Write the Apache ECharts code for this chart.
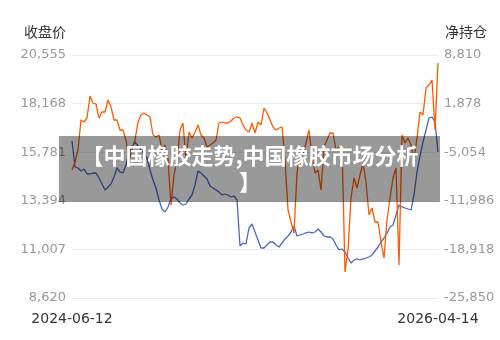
<!DOCTYPE html>
<html>
<head>
<meta charset="utf-8">
<script src="https://cdn.jsdelivr.net/npm/echarts@6/dist/echarts.min.js"></script>
<style>html,body{margin:0;padding:0;background:#fff}#c{width:500px;height:340px}</style>
</head>
<body>
<div id="c"></div>
<script>
var startDate = '2024-06-12';
var endDate = '2026-04-14';
var titleText = '【中国橡胶走势,中国橡胶市场分析\n】';
var leftAxisName = '收盘价';
var rightAxisName = '净持仓';
var leftTicks = [8620, 11007, 13394, 15781, 18168, 20555];
var rightTicks = [-25850, -18918, -11986, -5054, 1878, 8810];

var closePrice = [16331,15054,15005,14858,14956,14710,14710,14759,14759,14514,14219,13924,14072,14219,14563,15005,14809,14759,15152,15742,16036,16282,16086,15889,15693,15496,14907,14416,14023,13433,12991,12844,13090,13482,13581,13482,13286,13188,13237,13482,13679,14170,14858,14759,14612,14465,14121,14023,13924,13826,13679,13728,13679,13581,13630,13433,11174,11321,11272,12058,12255,11862,11469,11076,11076,11223,11370,11370,11223,11125,11321,11518,11665,11862,12156,11665,11714,11763,11813,11862,11813,11862,12009,11862,11665,11616,11616,11518,11223,10978,11027,10879,10585,10339,10486,10536,10486,10536,10585,10634,10732,10928,11125,11370,11567,11813,12107,12205,12697,13188,13090,13040,12991,12942,13679,14809,15594,16282,16871,17461,17510,17264,15791];

var netPosition = [-7592,-6451,-4740,-461,-746,-176,2962,1964,1821,-176,680,680,2392,1393,-461,-461,-1887,-1887,-3314,-6166,-4740,-3314,-746,252,537,252,-33,-2600,-2886,-2600,-4740,-4027,-6166,-12585,-8306,-6166,-1887,-889,-6166,-2173,-3028,-2173,-1174,-2600,-3028,-4312,-4027,-3741,-3314,-889,-746,-889,-889,-604,-176,-33,-176,-1174,-1887,-2173,-889,-2315,-746,-1174,1251,537,-461,-1459,-1887,-1602,-1459,-6166,-13298,-15009,-16578,-8020,-5168,-5453,-3741,-1887,-5738,-8020,-7592,-10445,-4312,-3314,-2315,-2315,-4740,-4312,-4027,-22141,-19003,-11586,-8733,-10160,-8306,-6594,-9304,-14011,-13012,-15009,-15009,-17862,-20144,-14724,-11586,-8733,-7307,-21142,-2600,-3741,-3028,-4027,-6166,-3028,680,252,4103,4531,5244,-1887,7669];

// evenly spaced date categories between the first and last date
function buildDates(n) {
  var s = Date.parse(startDate + 'T00:00:00Z');
  var e = Date.parse(endDate + 'T00:00:00Z');
  var out = [];
  for (var i = 0; i < n; i++) {
    var t = new Date(s + Math.round((e - s) / 86400000 * i / (n - 1)) * 86400000);
    out.push(t.toISOString().slice(0, 10));
  }
  return out;
}
var dates = buildDates(closePrice.length);

var chart = echarts.init(document.getElementById('c'), null, {renderer: 'canvas'});
var fmt = function (v) { return Math.round(v).toLocaleString('en-US'); };
var FONT = '"DejaVu Sans", "Noto Sans CJK SC", sans-serif';
chart.setOption({
  animation: false,
  grid: {left: 72, right: 62, top: 55, bottom: 42},
  xAxis: {
    type: 'category',
    data: dates,
    boundaryGap: false,
    axisLine: {show: false},
    axisTick: {show: false},
    splitLine: {show: false},
    axisLabel: {
      color: '#333', fontSize: 14, fontFamily: FONT, margin: 14,
      interval: function (i) { return i === 0 || i === dates.length - 1; },
      showMinLabel: true, showMaxLabel: true
    }
  },
  yAxis: [{
    type: 'value',
    name: leftAxisName,
    nameLocation: 'end',
    nameGap: 15,
    nameTextStyle: {color: '#333', fontSize: 14, fontFamily: FONT, align: 'right', padding: [0, 6, 0, 0]},
    min: leftTicks[0], max: leftTicks[leftTicks.length - 1], interval: leftTicks[1] - leftTicks[0],
    axisLine: {show: false}, axisTick: {show: false},
    axisLabel: {color: '#999', fontSize: 13, fontFamily: FONT, margin: 6, formatter: fmt},
    splitLine: {show: true, lineStyle: {color: '#E9EBF3', width: 1}}
  }, {
    type: 'value',
    name: rightAxisName,
    nameLocation: 'end',
    nameGap: 15,
    nameTextStyle: {color: '#333', fontSize: 14, fontFamily: FONT, align: 'left', padding: [0, 0, 0, 7]},
    min: rightTicks[0], max: rightTicks[rightTicks.length - 1], interval: rightTicks[1] - rightTicks[0],
    axisLine: {show: false}, axisTick: {show: false},
    axisLabel: {color: '#999', fontSize: 13, fontFamily: FONT, margin: 6, formatter: fmt},
    splitLine: {show: false}
  }],
  series: [{
    name: leftAxisName, type: 'line', yAxisIndex: 0, data: closePrice, z: 2,
    symbol: 'none', lineStyle: {color: '#4A68C9', width: 1.3}, itemStyle: {color: '#4A68C9'}
  }, {
    name: rightAxisName, type: 'line', yAxisIndex: 1, data: netPosition, z: 3,
    symbol: 'none', lineStyle: {color: '#FF5A00', width: 1.3}, itemStyle: {color: '#FF5A00'}
  }],
  graphic: {
    elements: [{
      type: 'rect', z: 1000, zlevel: 0, shape: {x: 59, y: 136, width: 381, height: 66},
      style: {fill: 'rgba(0,0,0,0.4)'}
    }, {
      type: 'text', z: 1001, zlevel: 0, x: 250, y: 169,
      style: {
        text: titleText, fill: '#fff', align: 'center', verticalAlign: 'middle',
        fontSize: 22, fontWeight: 'bold', lineHeight: 26,
        fontFamily: '"Noto Sans CJK SC", "DejaVu Sans", sans-serif'
      }
    }]
  }
});
</script>
</body>
</html>
